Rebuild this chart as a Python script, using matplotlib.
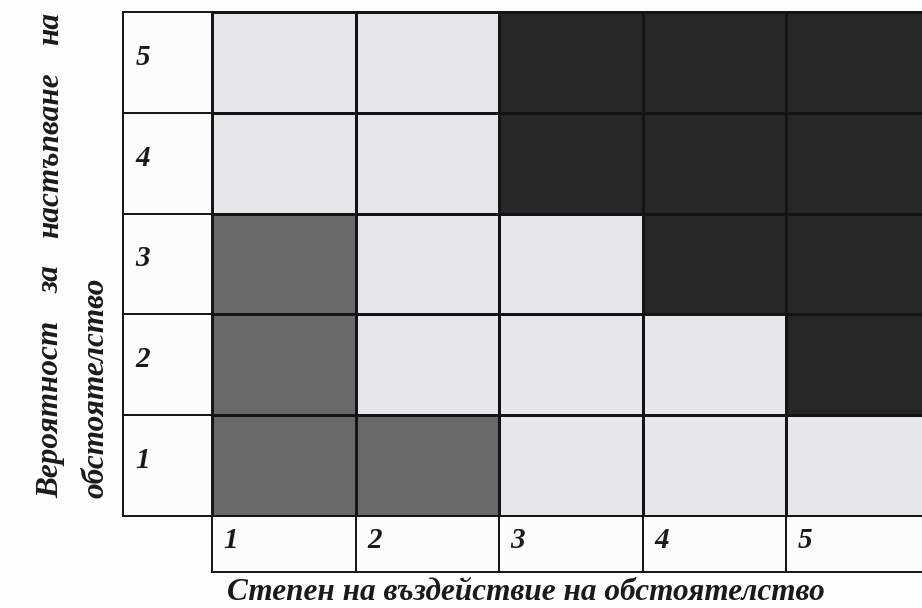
import numpy as np
import matplotlib
matplotlib.use("Agg")
import matplotlib.pyplot as plt
from matplotlib.colors import ListedColormap
from matplotlib.patches import Rectangle

plt.rcParams['font.family'] = ['Liberation Serif', 'DejaVu Serif']

# risk matrix: rows = probability 1..5 (bottom to top), cols = impact 1..5
# 0 = low (light), 1 = medium (mid grey), 2 = high (dark)
impact = [1, 2, 3, 4, 5]
probability = [1, 2, 3, 4, 5]
levels = np.array([
    [1, 1, 0, 0, 0],   # probability 1
    [1, 0, 0, 0, 2],   # probability 2
    [1, 0, 0, 2, 2],   # probability 3
    [0, 0, 2, 2, 2],   # probability 4
    [0, 0, 2, 2, 2],   # probability 5
])
xlabel = 'Степен на въздействие на обстоятелство'
ylabel_words = ['Вероятност', 'за', 'настъпване', 'на']
ylabel_line2 = 'обстоятелство'

cmap = ListedColormap(['#e7e7eb', '#686868', '#262626'])
edge = '#141414'

fig = plt.figure(figsize=(9.22, 6.08), dpi=100)
fig.patch.set_facecolor('#fdfdfe')
ax = fig.add_axes([0, 0, 1, 1])
ax.axis('off')

# axes in cell units (1 cell = 143.5 x 100.8 px)
ax.set_xlim(-212 / 143.5, 710 / 143.5)
ax.set_ylim(-92 / 100.8, 516 / 100.8)

n = len(impact)
ax.pcolormesh(np.arange(n + 1), np.arange(n + 1), levels, cmap=cmap,
              vmin=-0.5, vmax=2.5, edgecolors=edge, linewidth=0.9)

lab_w = 0.62   # width of the row-label column
lab_h = 0.555  # height of the column-label row
num_style = dict(fontsize=21, fontweight='bold', fontstyle='italic', color='#1a1a1a')

for i, p in enumerate(probability):
    ax.add_patch(Rectangle((-lab_w, i), lab_w, 1, facecolor='#fcfcfd',
                           edgecolor=edge, linewidth=1.4))
    ax.text(-lab_w + 0.085, i + 0.55, str(p), ha='left', va='center', **num_style)

for j, c in enumerate(impact):
    ax.add_patch(Rectangle((j, -lab_h), 1, lab_h, facecolor='#fcfcfd',
                           edgecolor=edge, linewidth=1.4))
    ax.text(j + 0.08, -lab_h / 2 + 0.03, str(c), ha='left', va='center', **num_style)

lab_style = dict(fontsize=22.5, fontweight='bold', fontstyle='italic', color='#1a1a1a')

# x label
ax.text(2.19, -0.755, xlabel, ha='center', va='center', **lab_style)

# y label, first line justified along the table height
fig.canvas.draw()
r = fig.canvas.get_renderer()
top_px, bot_px = 12, 498
x1 = 51 / 922
texts = [fig.text(x1, 0, w, rotation=90, ha='center', va='bottom', **lab_style)
         for w in ylabel_words]
hs = [t.get_window_extent(r).height for t in texts]
gap = ((bot_px - top_px) - sum(hs)) / (len(hs) - 1)
pos = bot_px
for t, h in zip(texts, hs):
    t.set_y(1 - pos / 608)
    pos -= h + gap

fig.text(96 / 922, 1 - bot_px / 608, ylabel_line2, rotation=90,
         ha='center', va='bottom', **lab_style)

fig.savefig('out.png', dpi=100, facecolor=fig.get_facecolor())
